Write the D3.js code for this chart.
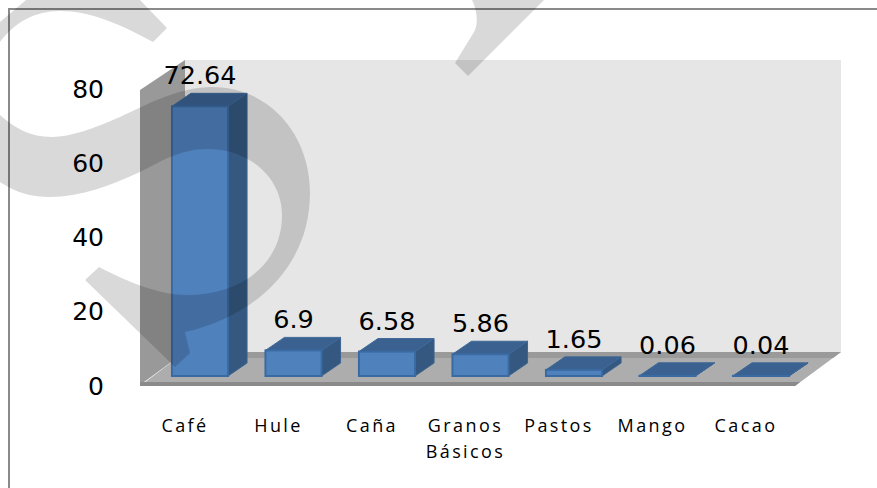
<!DOCTYPE html>
<html>
<head>
<meta charset="utf-8">
<script src="https://cdn.jsdelivr.net/npm/d3@7"></script>
<style>
  html, body { margin: 0; padding: 0; background: #fff; }
  svg { display: block; }
</style>
</head>
<body>
<div id="chart"></div>
<script>
var categories = ["Café", "Hule", "Caña", "Granos Básicos", "Pastos", "Mango", "Cacao"];
var values = [72.64, 6.9, 6.58, 5.86, 1.65, 0.06, 0.04];
var valueLabels = ["72.64", "6.9", "6.58", "5.86", "1.65", "0.06", "0.04"];
var yTicks = [0, 20, 40, 60, 80];

var width = 877, height = 488;
var numFont = "'DejaVu Sans', sans-serif";
var depthX = 19, depthY = -13;
var floorLift = 9; // bars stand a bit behind the front edge of the floor

var svg = d3.select("#chart").append("svg")
    .attr("width", width)
    .attr("height", height);

var x = d3.scaleBand().domain(categories).range([153.25, 807.75])
    .paddingInner(0.4).paddingOuter(0.2);
var y = d3.scaleLinear().domain([0, 80]).range([385, 88]);

// frame, only top and left show
svg.append("path")
    .attr("d", "M9,488V9H877")
    .attr("fill", "none")
    .attr("stroke", "#8a8a8a")
    .attr("stroke-width", 2);

// 3D box: back wall, side wall, floor
var box = svg.append("g");
box.append("path").attr("d", "M185,60H841V352H185Z").attr("fill", "#e6e6e6");
box.append("path").attr("d", "M140,385V90L185,60V352Z").attr("fill", "#999999");
box.append("path").attr("d", "M140,386L185,352H841L795,386Z").attr("fill", "#adadad");
box.append("path").attr("d", "M185,352H841L833,358H185Z").attr("fill", "#9a9a9a");
box.append("path").attr("d", "M140,382H800L795,386H140Z").attr("fill", "#8a8a8a");

// axis
var axis = d3.axisLeft(y).tickValues(yTicks).tickSize(0).tickPadding(0);
var axisG = svg.append("g")
    .attr("transform", "translate(104,1)")
    .call(axis);
axisG.select(".domain").remove();
axisG.selectAll("text")
    .attr("font-family", numFont)
    .attr("font-size", 25)
    .attr("fill", "#000");

// bars
var bars = svg.append("g").selectAll("g")
    .data(values)
    .enter().append("g");

function barLeft(d, i) { return x(categories[i]); }
function barTop(d) { return y(d) - floorLift; }
var barBase = y(0) - floorLift;

bars.append("path") // side face
    .attr("d", function(d, i) {
        var r = barLeft(d, i) + x.bandwidth();
        return "M" + r + "," + barTop(d) +
            "l" + depthX + "," + depthY +
            "V" + (barBase + depthY) +
            "L" + r + "," + barBase + "Z";
    })
    .attr("fill", "#34587f")
    .attr("stroke", "#3d6590")
    .attr("stroke-width", 1);

bars.append("path") // top face
    .attr("d", function(d, i) {
        var l = barLeft(d, i), r = l + x.bandwidth();
        return "M" + l + "," + barTop(d) +
            "L" + r + "," + barTop(d) +
            "l" + depthX + "," + depthY +
            "H" + (l + depthX) + "Z";
    })
    .attr("fill", "#3a6190")
    .attr("stroke", "#3f6897")
    .attr("stroke-width", 1);

bars.append("rect") // front face
    .attr("x", barLeft)
    .attr("y", barTop)
    .attr("width", x.bandwidth())
    .attr("height", function(d) { return barBase - barTop(d); })
    .attr("fill", "#4f81bd")
    .attr("stroke", "#3a6aa2")
    .attr("stroke-width", 2);

// value labels
svg.append("g").selectAll("text")
    .data(values)
    .enter().append("text")
    .attr("x", function(d, i) { return barLeft(d, i) + x.bandwidth() / 2; })
    .attr("y", function(d) { return barTop(d) - 22; })
    .attr("text-anchor", "middle")
    .attr("font-family", numFont)
    .attr("font-size", 25.5)
    .attr("fill", "#000")
    .text(function(d, i) { return valueLabels[i]; });

// category labels, wrapped on the space
var catLabels = svg.append("g").selectAll("text")
    .data(categories)
    .enter().append("text")
    .attr("text-anchor", "middle")
    .attr("font-family", "'Open Sans', sans-serif")
    .attr("font-size", 18)
    .attr("letter-spacing", 2.4)
    .attr("fill", "#000");

catLabels.each(function(d) {
    var cx = x(d) + x.bandwidth() / 2 - 15;
    d3.select(this).selectAll("tspan")
        .data(d.split(" "))
        .enter().append("tspan")
        .attr("x", cx)
        .attr("y", function(w, i) { return 432 + i * 26; })
        .text(function(w) { return w; });
});

// watermark on top of everything
var watermark = svg.append("g").attr("fill", "#000").attr("fill-opacity", 0.15);
watermark.append("path").attr("d",
    "M0,115C15,128 30,137 52,137C70,137 95,128 120,117C150,103 180,87 212,87" +
    "C270,87 310,135 310,193C310,270 250,318 185,332" +
    "L190,353L175,367L85,280L99,267C130,283 160,295 187,295" +
    "C240,295 282,265 282,215C282,178 250,149 207,149" +
    "C180,149 160,162 140,172C110,186 80,197 50,197C30,197 15,192 0,182Z");
watermark.append("path").attr("d",
    "M0,22L26,0H140L167,28L153,42C120,24 90,11 60,11C35,11 15,22 0,42Z");
watermark.append("path").attr("d",
    "M472,0C478,12 478,25 474,32L455,63L468,76L544,0Z");
</script>
</body>
</html>
